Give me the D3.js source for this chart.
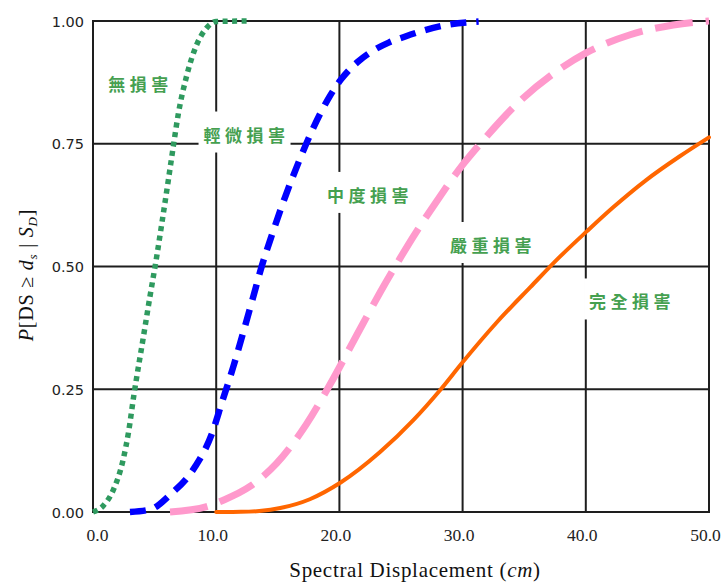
<!DOCTYPE html>
<html>
<head>
<meta charset="utf-8">
<script src="https://cdn.jsdelivr.net/npm/d3@7"></script>
<style>
  html, body { margin: 0; padding: 0; background: #fff; }
  svg { display: block; }
</style>
</head>
<body>
<div id="chart"></div>
<script>
// fragility curves: displacement (cm) vs exceedance probability
const slightX = [0, 0.84, 1.65, 2.46, 2.9, 3.3, 4.08, 4.63, 5.17, 5.6, 6.11, 6.52, 6.92, 7.6, 8.42, 9.23, 10.0, 12.5];
const slightP = [0, 0.013, 0.045, 0.108, 0.165, 0.235, 0.355, 0.44, 0.52, 0.59, 0.675, 0.745, 0.81, 0.888, 0.952, 0.986, 0.999, 1.0];

const moderateX = [3.0, 4.63, 6.25, 8.28, 9.63, 10.45, 11.39, 12.15, 12.96, 13.69, 14.6, 15.6, 16.7, 17.75, 19.2, 20.1, 21.5, 22.5, 24.0, 25.3, 26.5, 28.7, 31.3];
const moderateP = [0, 0.005, 0.035, 0.092, 0.158, 0.222, 0.296, 0.362, 0.434, 0.5, 0.57, 0.642, 0.713, 0.775, 0.846, 0.88, 0.917, 0.936, 0.956, 0.968, 0.978, 0.992, 0.999];

const extensiveX = [6.25, 9.23, 10.58, 12.74, 14.9, 17.3, 19.2, 21.4, 23.3, 24.6, 26.0, 27.9, 30.0, 31.5, 34.7, 37.6, 40.1, 43.6, 47.1, 50];
const extensiveP = [0, 0.011, 0.024, 0.052, 0.099, 0.178, 0.258, 0.36, 0.447, 0.503, 0.561, 0.633, 0.707, 0.752, 0.838, 0.897, 0.936, 0.972, 0.992, 1.0];

const completeX = [10.0, 12.0, 13.5, 15.2, 17.6, 20.1, 23.3, 26.0, 28.2, 30.0, 32.8, 35.5, 37.9, 40.1, 42.2, 44.9, 47.6, 50];
const completeP = [0, 0.0003, 0.002, 0.008, 0.026, 0.06, 0.122, 0.187, 0.249, 0.305, 0.387, 0.458, 0.52, 0.572, 0.62, 0.676, 0.724, 0.763];

const xTicks = [0, 10, 20, 30, 40, 50];
const yTicks = [0, 0.25, 0.5, 0.75, 1];

// damage-state labels and where they sit (in data units)
const stateNames = ['無損害', '輕微損害', '中度損害', '嚴重損害', '完全損害'];
const stateAtX = [3.65, 12.26, 22.28, 32.26, 43.55];
const stateAtP = [0.87, 0.767, 0.644, 0.542, 0.427];

const W = 727, H = 586;
const plot = { left: 93, right: 709, top: 21, bottom: 512 };

const x = d3.scaleLinear().domain([0, 50]).range([plot.left, plot.right]);
const y = d3.scaleLinear().domain([0, 1]).range([plot.bottom, plot.top]);

const svg = d3.select('#chart').append('svg')
  .attr('width', W)
  .attr('height', H);

svg.append('rect').attr('width', W).attr('height', H).attr('fill', '#fff');

// grid + frame
const gridColor = '#1e1e1e';
const grid = svg.append('g');
grid.selectAll('line.v')
  .data(xTicks)
  .join('line')
  .attr('x1', d => x(d)).attr('x2', d => x(d))
  .attr('y1', plot.top).attr('y2', plot.bottom)
  .attr('stroke', gridColor).attr('stroke-width', 2);
grid.selectAll('line.h')
  .data(yTicks)
  .join('line')
  .attr('x1', plot.left - 1).attr('x2', plot.right + 1)
  .attr('y1', d => y(d)).attr('y2', d => y(d))
  .attr('stroke', gridColor).attr('stroke-width', 2);

// tick labels (no tick marks in the original)
const xAxis = d3.axisBottom(x).tickValues(xTicks).tickFormat(d3.format('.1f')).tickSize(0).tickPadding(17);
const yAxis = d3.axisLeft(y).tickValues(yTicks).tickFormat(d3.format('.2f')).tickSize(0).tickPadding(9);

const gx = svg.append('g').attr('transform', `translate(0,${plot.bottom})`).call(xAxis);
gx.select('.domain').remove();
gx.selectAll('text')
  .style('font-family', '"Liberation Serif", serif')
  .style('font-size', '17.5px')
  .attr('fill', '#222')
  .attr('dx', (d, i) => i === 0 ? 4 : -4);

const gy = svg.append('g').attr('transform', `translate(${plot.left},0)`).call(yAxis);
gy.select('.domain').remove();
gy.selectAll('text')
  .style('font-family', '"DejaVu Sans", sans-serif')
  .style('font-size', '14.5px')
  .attr('fill', '#222')
  .attr('dy', '0.36em');

// axis titles
const xTitle = svg.append('text')
  .attr('x', 415).attr('y', 577)
  .attr('text-anchor', 'middle')
  .style('font-family', '"Liberation Serif", serif')
  .style('font-size', '21px')
  .style('letter-spacing', '0.7px')
  .attr('fill', '#111');
xTitle.append('tspan').text('Spectral Displacement (');
xTitle.append('tspan').style('font-style', 'italic').text('cm');
xTitle.append('tspan').text(')');

const yTitle = svg.append('text')
  .attr('transform', 'translate(33,275) rotate(-90)')
  .attr('text-anchor', 'middle')
  .style('font-family', '"Liberation Serif", serif')
  .style('font-size', '20px')
  .style('letter-spacing', '0.8px')
  .attr('fill', '#111');
yTitle.append('tspan').style('font-style', 'italic').text('P');
yTitle.append('tspan').text('[DS ≥ ');
yTitle.append('tspan').style('font-style', 'italic').text('d');
yTitle.append('tspan').attr('dy', 4).style('font-size', '13px').style('font-style', 'italic').text('s');
yTitle.append('tspan').attr('dy', -4).text(' | ');
yTitle.append('tspan').style('font-style', 'italic').text('S');
yTitle.append('tspan').attr('dy', 4).style('font-size', '13px').style('font-style', 'italic').text('D');
yTitle.append('tspan').attr('dy', -4).text(']');

// state labels with white boxes that cut the grid lines
const labels = svg.append('g');
stateNames.forEach((name, i) => {
  const g = labels.append('g');
  const t = g.append('text')
    .attr('x', x(stateAtX[i]) + 2.5)
    .attr('y', y(stateAtP[i]))
    .attr('text-anchor', 'middle')
    .attr('dy', '0.36em')
    .style('font-family', '"Noto Sans CJK TC", sans-serif')
    .style('font-size', '17px')
    .style('font-weight', 'bold')
    .style('letter-spacing', '4.5px')
    .attr('fill', '#45a050')
    .text(name);
  const bb = t.node().getBBox();
  g.insert('rect', 'text')
    .attr('x', bb.x - 5)
    .attr('y', bb.y - 10)
    .attr('width', bb.width + 6)
    .attr('height', bb.height + 16)
    .attr('fill', '#fff');
});

// curves
const series = [
  { xs: slightX, ps: slightP, color: '#2f9a5f', width: 5.5, dash: '5,4.5', cap: 'butt' },
  { xs: moderateX, ps: moderateP, color: '#0000ff', width: 6.5, dash: '16,10', cap: 'butt' },
  { xs: extensiveX, ps: extensiveP, color: '#ff99cc', width: 7, dash: '38,13', cap: 'butt' },
  { xs: completeX, ps: completeP, color: '#ff6600', width: 4, dash: null, cap: 'round' }
];

const line = d3.line()
  .x(d => x(d[0]))
  .y(d => y(d[1]))
  .curve(d3.curveMonotoneX);

series.forEach(s => {
  const pts = s.xs.map((v, i) => [v, s.ps[i]]);
  svg.append('path')
    .datum(pts)
    .attr('d', line)
    .attr('fill', 'none')
    .attr('stroke', s.color)
    .attr('stroke-width', s.width)
    .attr('stroke-linecap', s.cap)
    .attr('stroke-dasharray', s.dash);
});
</script>
</body>
</html>
